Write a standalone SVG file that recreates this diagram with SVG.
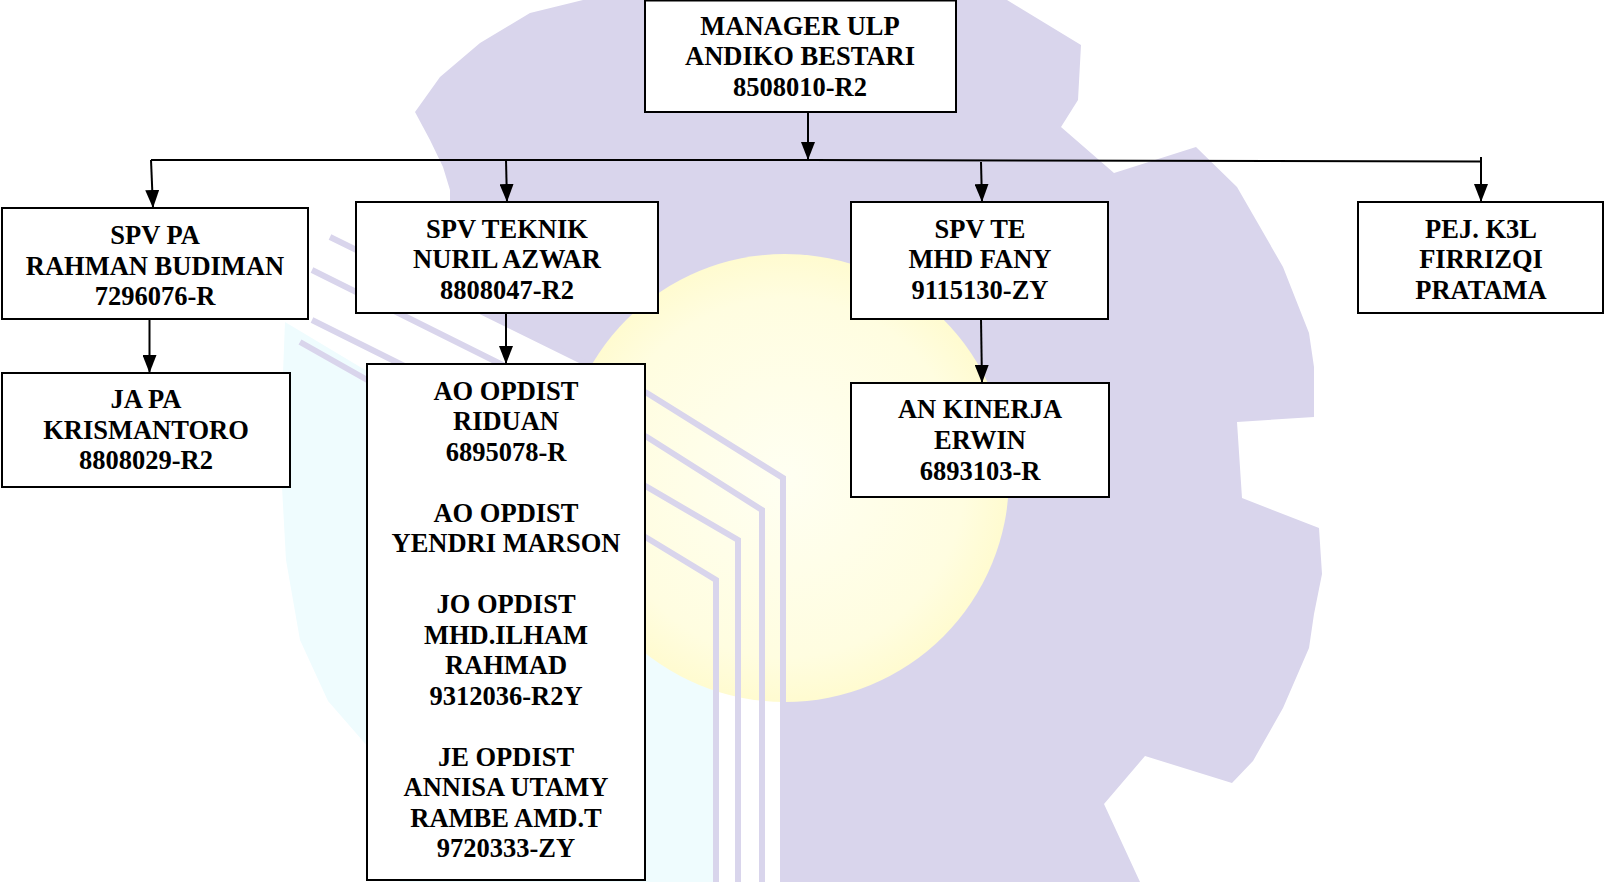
<svg xmlns="http://www.w3.org/2000/svg" width="1605" height="882" viewBox="0 0 1605 882">
<defs>
<style>
.box{fill:#fff;stroke:#000;stroke-width:2}
.lbl{font-family:"Liberation Serif","Times New Roman",serif;font-weight:bold;font-size:26.5px;fill:#000;text-anchor:middle}
.con{fill:none;stroke:#000;stroke-width:2}
.stripe{fill:none;stroke:#d9d5ec;stroke-width:6;stroke-linejoin:miter}
</style>
<marker id="ah" markerUnits="userSpaceOnUse" markerWidth="18" markerHeight="14" refX="18" refY="7" orient="auto" viewBox="0 0 18 14">
<path d="M0,0 L18,7 L0,14 Z" fill="#000"/>
</marker>
<radialGradient id="sun" cx="0.5" cy="0.5" r="0.5">
<stop offset="0" stop-color="#fffff2"/>
<stop offset="0.8" stop-color="#fffde0"/>
<stop offset="1" stop-color="#fffbd0"/>
</radialGradient>
</defs>
<rect width="1605" height="882" fill="#fff"/>
<g id="watermark">
<path fill="#d9d5ec" d="M583,0 L1007,0 L1081,45 L1078,100 L1061,127 L1114,173 L1196,147 L1237,187 L1283,267 L1309,333 L1314,367 L1314,417 L1237,422 L1242,498 L1319,528 L1322,574 L1314,614 L1309,648 L1283,708 L1253,761 L1232,783 L1145,756 L1104,804 L1140,882 L786,882 L786,480 L650,395 L480,312 L450,205 L450,190 L443,167 L430,140 L415,112 L440,77 L480,43 L530,13 Z"/>
<path fill="#effcfe" d="M285,322 L716,580 L716,882 L400,882 L369,748 L328,701 L300,640 L286,560 L280,450 Z"/>
<circle cx="785" cy="478" r="224" fill="url(#sun)"/>
<polyline class="stripe" points="330,237 647,393 783,478 783,882"/>
<polyline class="stripe" points="312,270 647,437 762,510 762,882"/>
<polyline class="stripe" points="312,320 647,487 738,540 738,882"/>
<polyline class="stripe" points="300,342 647,538 716,580 716,882"/>
</g>
<g id="connectors">
<line class="con" x1="808" y1="112" x2="808" y2="160" marker-end="url(#ah)"/>
<path class="con" d="M151,160 H808 L1481,161.5"/>
<line class="con" x1="151" y1="160" x2="153" y2="208" marker-end="url(#ah)"/>
<line class="con" x1="506" y1="160" x2="507" y2="202" marker-end="url(#ah)"/>
<line class="con" x1="981" y1="162" x2="982" y2="202" marker-end="url(#ah)"/>
<line class="con" x1="1481" y1="157" x2="1481" y2="202" marker-end="url(#ah)"/>
<line class="con" x1="149.5" y1="319" x2="149.5" y2="373" marker-end="url(#ah)"/>
<line class="con" x1="506" y1="313" x2="506" y2="364" marker-end="url(#ah)"/>
<line class="con" x1="981" y1="319" x2="982" y2="383" marker-end="url(#ah)"/>
</g>
<g id="manager">
<rect class="box" x="645" y="0.5" width="311" height="111.5"/>
<text class="lbl" x="800" y="35">MANAGER ULP</text>
<text class="lbl" x="800" y="65">ANDIKO BESTARI</text>
<text class="lbl" x="800" y="95.5">8508010-R2</text>
</g>
<g id="spv-pa">
<rect class="box" x="2" y="208" width="306" height="111"/>
<text class="lbl" x="155" y="244">SPV PA</text>
<text class="lbl" x="155" y="274.5">RAHMAN BUDIMAN</text>
<text class="lbl" x="155" y="305">7296076-R</text>
</g>
<g id="spv-teknik">
<rect class="box" x="356" y="202" width="302" height="111"/>
<text class="lbl" x="507" y="237.5">SPV TEKNIK</text>
<text class="lbl" x="507" y="268">NURIL AZWAR</text>
<text class="lbl" x="507" y="298.5">8808047-R2</text>
</g>
<g id="spv-te">
<rect class="box" x="851" y="202" width="257" height="117"/>
<text class="lbl" x="980" y="237.5">SPV TE</text>
<text class="lbl" x="980" y="268">MHD FANY</text>
<text class="lbl" x="980" y="298.5">9115130-ZY</text>
</g>
<g id="pej-k3l">
<rect class="box" x="1358" y="202" width="245" height="111"/>
<text class="lbl" x="1481" y="237.5">PEJ. K3L</text>
<text class="lbl" x="1481" y="268">FIRRIZQI</text>
<text class="lbl" x="1481" y="298.5">PRATAMA</text>
</g>
<g id="ja-pa">
<rect class="box" x="2" y="373" width="288" height="114"/>
<text class="lbl" x="146" y="408">JA PA</text>
<text class="lbl" x="146" y="438.5">KRISMANTORO</text>
<text class="lbl" x="146" y="469">8808029-R2</text>
</g>
<g id="ao-opdist">
<rect class="box" x="367" y="364" width="278" height="516"/>
<text class="lbl" x="506" y="399.5">AO OPDIST</text>
<text class="lbl" x="506" y="430">RIDUAN</text>
<text class="lbl" x="506" y="460.5">6895078-R</text>
<text class="lbl" x="506" y="521.5">AO OPDIST</text>
<text class="lbl" x="506" y="552">YENDRI MARSON</text>
<text class="lbl" x="506" y="613">JO OPDIST</text>
<text class="lbl" x="506" y="643.5">MHD.ILHAM</text>
<text class="lbl" x="506" y="674">RAHMAD</text>
<text class="lbl" x="506" y="704.5">9312036-R2Y</text>
<text class="lbl" x="506" y="765.5">JE OPDIST</text>
<text class="lbl" x="506" y="796">ANNISA UTAMY</text>
<text class="lbl" x="506" y="826.5">RAMBE AMD.T</text>
<text class="lbl" x="506" y="857">9720333-ZY</text>
</g>
<g id="an-kinerja">
<rect class="box" x="851" y="383" width="258" height="114"/>
<text class="lbl" x="980" y="418">AN KINERJA</text>
<text class="lbl" x="980" y="449">ERWIN</text>
<text class="lbl" x="980" y="480">6893103-R</text>
</g>
</svg>
